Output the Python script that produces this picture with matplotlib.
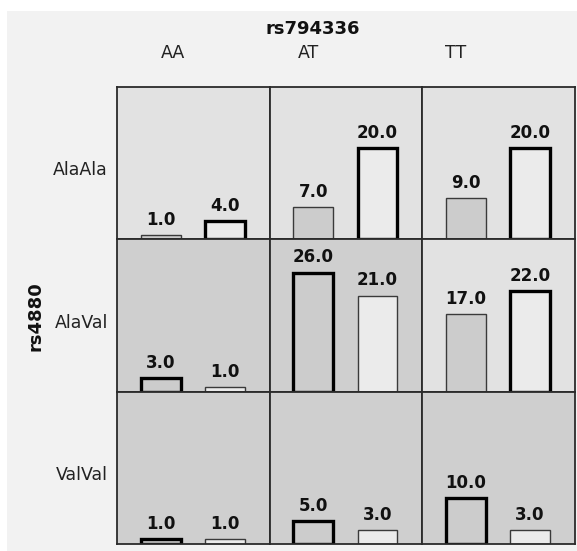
import matplotlib
matplotlib.use("Agg")
import matplotlib.pyplot as plt
from matplotlib.patches import Rectangle

# rs4880 genotypes (rows) x rs794336 genotypes (columns)
row_labels = ["AlaAla", "AlaVal", "ValVal"]
col_labels = ["AA", "AT", "TT"]

# counts for the two groups shown in each cell
group1 = [[1.0, 7.0, 9.0],
          [3.0, 26.0, 17.0],
          [1.0, 5.0, 10.0]]
group2 = [[4.0, 20.0, 20.0],
          [1.0, 21.0, 22.0],
          [1.0, 3.0, 3.0]]

# which bar of each cell is outlined heavily (0 = first, 1 = second)
heavy_bar = [[1, 1, 1],
             [0, 0, 1],
             [0, 0, 0]]
# cell shading: True = darker background
dark_cell = [[False, False, False],
             [True, True, False],
             [True, True, True]]

W, H = 577, 551
fig = plt.figure(figsize=(W / 100, H / 100), dpi=100)
fig.patch.set_facecolor("white")
fig.patches.append(Rectangle((7 / W, 0), 1 - 7 / W, 1 - 11 / H,
                             transform=fig.transFigure, facecolor="#f2f2f2",
                             edgecolor="none", zorder=-10))

left, right, top, bottom = 117, 575, 87, 544
cw = (right - left) / 3
rh = (bottom - top) / 3

light_bg, dark_bg = "#e2e2e2", "#cfcfcf"
fill1, fill2 = "#cccccc", "#ebebeb"
ymax = 33.3

for i in range(3):
    for j in range(3):
        x0 = left + j * cw
        y0 = top + (i + 1) * rh
        ax = fig.add_axes([x0 / W, 1 - y0 / H, cw / W, rh / H])
        ax.set_facecolor(dark_bg if dark_cell[i][j] else light_bg)
        vals = [group1[i][j], group2[i][j]]
        for k, v in enumerate(vals):
            heavy = heavy_bar[i][j] == k
            ax.bar(k, v, width=0.62, color=fill1 if k == 0 else fill2,
                   edgecolor="black" if heavy else "#3a3a3a",
                   linewidth=2.4 if heavy else 1.0, zorder=2)
            ax.annotate(f"{v:.1f}", (k, v), xytext=(0, 4.5),
                        textcoords="offset points", ha="center", va="bottom",
                        fontsize=12, fontweight="bold", color="#111111")
        ax.set_xlim(-0.68, 1.70)
        ax.set_ylim(0, ymax)
        ax.set_xticks([])
        ax.set_yticks([])
        for s in ax.spines.values():
            s.set_color("#2b2b2b")
            s.set_linewidth(1.3)

# column headers
col_x = [173, 308, 456]
for lab, cx in zip(col_labels, col_x):
    fig.text(cx / W, 1 - 53 / H, lab, ha="center", va="center",
             fontsize=12.5, color="#222222")

# row headers
for i, lab in enumerate(row_labels):
    cy = top + (i + 0.5) * rh + 7
    fig.text(108 / W, 1 - cy / H, lab, ha="right", va="center",
             fontsize=12.5, color="#222222")

fig.text(313 / W, 1 - 28.5 / H, "rs794336", ha="center", va="center",
         fontsize=13, fontweight="bold", color="#111111")
fig.text(35 / W, 1 - 316 / H, "rs4880", ha="center", va="center",
         rotation=90, fontsize=13, fontweight="bold", color="#111111")

fig.savefig("out.png", dpi=100)
